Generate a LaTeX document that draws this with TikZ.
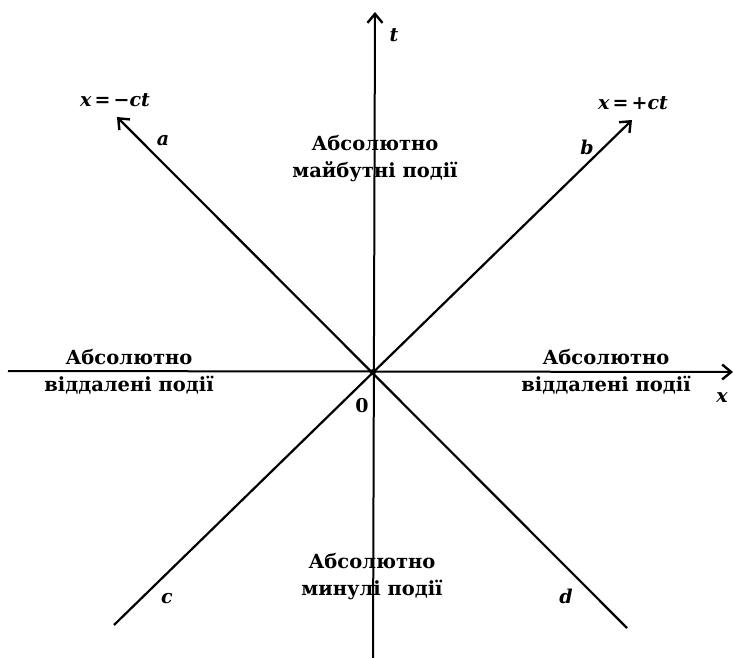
\documentclass[tikz,border=0pt]{standalone}
\usepackage{fontspec}
\setmainfont{DejaVu Serif}
\usetikzlibrary{arrows.meta}
\begin{document}
\begin{tikzpicture}[x=1pt,y=-1pt,
  axis/.style={line width=2pt},
  cone/.style={line width=2.2pt},
  tip/.style={-{Straight Barb[length=9pt,width=15pt,line width=2.4pt]}},
  lbl/.style={font=\fontsize{19.5}{27}\selectfont\bfseries, align=center, inner sep=0pt},
  mlab/.style={font=\fontsize{19}{22}\selectfont\bfseries\itshape, inner sep=0pt}]
\useasboundingbox (0,0) rectangle (734,658);
% coordinates
\coordinate (O) at (373,372);
\coordinate (tTop) at (375,12);
\coordinate (tBot) at (373,658);
\coordinate (xL) at (8,371);
\coordinate (xR) at (733,372);
\coordinate (aTip) at (117,117);
\coordinate (dEnd) at (627,628);
\coordinate (bTip) at (632,120);
\coordinate (cEnd) at (114,625);
% axes
\draw[axis,tip] (tBot) -- (tTop);
\draw[axis,tip] (xL) -- (xR);
% light cone
\draw[cone,tip] (dEnd) -- (aTip);
\draw[cone,tip] (cEnd) -- (bTip);
\fill (O) circle (3pt);
% labels
\node[mlab] (lt) at (394,35) {t};
\node[mlab] (lx) at (722,398) {x};
\node[mlab] (l0) at (362,406) {\upshape 0};
\node[mlab] (lmc) at (115,100) {x{\upshape\,=\,−}ct};
\node[mlab] (lpc) at (633,103) {x{\upshape\,=\,+}ct};
\node[mlab] (la) at (163,141) {a};
\node[mlab] (lb) at (587,147) {b};
\node[mlab] (lc) at (167,599) {c};
\node[mlab] (ld) at (566,596) {d};
\node[lbl] (fut) at (375,159) {Абсолютно\\майбутні події};
\node[lbl] (past) at (372,577) {Абсолютно\\минулі події};
\node[lbl] (left) at (129,372) {Абсолютно\\віддалені події};
\node[lbl] (right) at (606,372) {Абсолютно\\віддалені події};
\end{tikzpicture}
\end{document}
